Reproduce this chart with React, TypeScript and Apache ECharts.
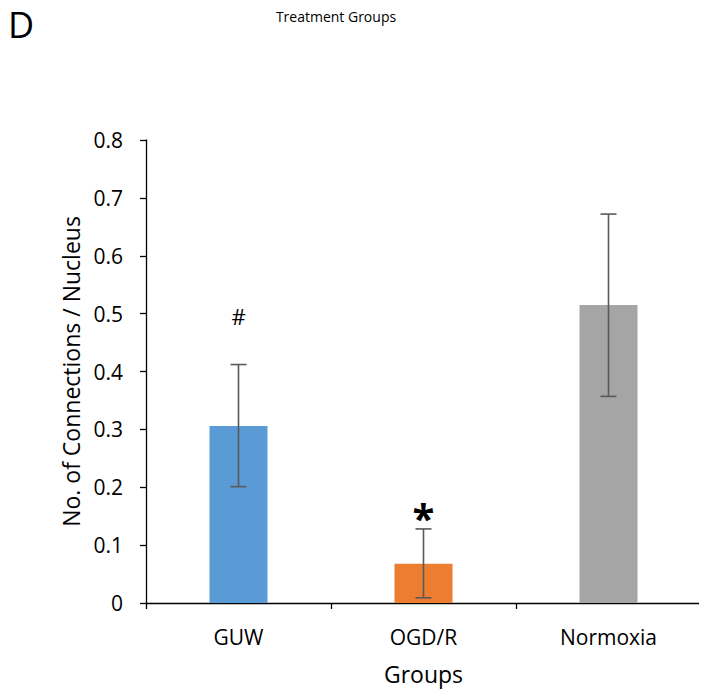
import React, { useEffect, useRef } from "react";
import * as echarts from "echarts";

const categories = ["GUW", "OGD/R", "Normoxia"];
const means = [0.306, 0.068, 0.515];
const errLow = [0.201, 0.009, 0.357];
const errHigh = [0.412, 0.128, 0.672];
const barColors = ["#5B9BD5", "#ED7D31", "#A5A5A5"];
const markers = ["#", "*", ""];
const markerLevels = [0.496, 0.161, 0];
const yTicks = { min: 0, max: 0.8, interval: 0.1 };

const FONT = "'Open Sans', 'Noto Sans', sans-serif";

export default function App() {
  const ref = useRef<HTMLDivElement>(null);
  useEffect(() => {
    if (!ref.current) return;
    const chart = echarts.init(ref.current, undefined, { renderer: "svg" });
    chart.setOption({
      animation: false,
      backgroundColor: "#fff",
      textStyle: { fontFamily: FONT },
      title: {
        text: "Treatment Groups",
        left: 331,
        top: 4,
        textAlign: "center",
        textStyle: { fontSize: 14, fontWeight: "normal", color: "#000", fontFamily: FONT },
      },
      graphic: [
        {
          type: "text",
          left: 8,
          top: 6,
          style: { text: "D", fontSize: 36, fill: "#000", fontFamily: FONT },
        },
      ],
      grid: { left: 146, right: 6, top: 140, bottom: 90, containLabel: false },
      xAxis: {
        type: "category",
        data: categories,
        name: "Groups",
        nameLocation: "middle",
        nameGap: 59,
        nameTextStyle: { fontSize: 23, color: "#000", fontFamily: FONT },
        axisLine: { show: true, lineStyle: { color: "#000", width: 1.3 } },
        axisTick: { show: true, inside: false, length: 6, alignWithLabel: false, lineStyle: { color: "#000", width: 1.3 } },
        axisLabel: { fontSize: 21, color: "#000", margin: 23, fontFamily: FONT },
        splitLine: { show: false },
      },
      yAxis: {
        type: "value",
        min: yTicks.min,
        max: yTicks.max,
        interval: yTicks.interval,
        name: "No. of Connections / Nucleus",
        nameLocation: "middle",
        nameGap: 61,
        nameRotate: 90,
        nameTextStyle: { fontSize: 23, color: "#000", fontFamily: FONT },
        axisLine: { show: true, lineStyle: { color: "#000", width: 1.3 } },
        axisTick: { show: true, inside: false, length: 6, lineStyle: { color: "#000", width: 1.3 } },
        axisLabel: {
          fontSize: 21,
          color: "#000",
          margin: 23,
          fontFamily: FONT,
          formatter: (v: number) => (v === 0 ? "0" : v.toFixed(1)),
        },
        splitLine: { show: false },
      },
      series: [
        {
          type: "bar",
          barWidth: 58,
          data: means.map((v, i) => ({ value: v, itemStyle: { color: barColors[i] } })),
          z: 2,
        },
        {
          type: "custom",
          z: 5,
          data: categories.map((_, i) => [i, errLow[i], errHigh[i], markerLevels[i]]),
          renderItem: (params: any, api: any) => {
            const i = api.value(0);
            const lo = api.coord([i, api.value(1)]);
            const hi = api.coord([i, api.value(2)]);
            const mk = api.coord([i, api.value(3)]);
            const cap = 8;
            const style = { stroke: "#595959", lineWidth: 1.6 };
            const children: any[] = [
              { type: "line", shape: { x1: hi[0], y1: hi[1], x2: lo[0], y2: lo[1] }, style },
              { type: "line", shape: { x1: hi[0] - cap, y1: hi[1], x2: hi[0] + cap, y2: hi[1] }, style },
              { type: "line", shape: { x1: lo[0] - cap, y1: lo[1], x2: lo[0] + cap, y2: lo[1] }, style },
            ];
            const m = markers[params.dataIndex];
            if (m) {
              const isStar = m === "*";
              children.push({
                type: "text",
                x: mk[0],
                y: mk[1] + (isStar ? 8 : 0),
                style: {
                  text: m,
                  fontSize: isStar ? 40 : 22,
                  fontWeight: isStar ? "bold" : "normal",
                  fill: "#000",
                  align: "center",
                  verticalAlign: "middle",
                  fontFamily: FONT,
                },
              });
            }
            return { type: "group", children };
          },
        },
      ],
    });
    return () => chart.dispose();
  }, []);
  return <div ref={ref} style={{ width: 707, height: 693, marginLeft: -8, marginTop: -8 }} />;
}
